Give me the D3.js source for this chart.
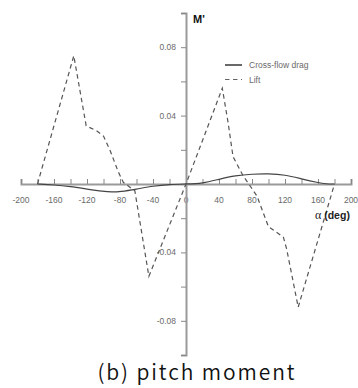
<!DOCTYPE html>
<html>
<head>
<meta charset="utf-8">
<script src="https://cdn.jsdelivr.net/npm/d3@7"></script>
<style>
  html, body { margin: 0; padding: 0; background: #fff; }
  svg { display: block; }
</style>
</head>
<body>
<svg id="chart" width="358" height="388"></svg>
<script>
// Angle of attack (deg) and pitch moment coefficient per contribution
const dragAlpha  = [-180, -160, -140, -120, -100, -90, -80, -60, -40, -20, 0, 20, 40, 60, 80, 100, 120, 140, 160, 170, 180];
const dragMoment = [0, -0.0005, -0.0015, -0.003, -0.0044, -0.0047, -0.0045, -0.003, -0.0012, -0.0002, 0, 0.0003, 0.0028, 0.005, 0.0058, 0.006, 0.0054, 0.003, 0.0008, 0, 0];

const liftAlpha  = [-180, -136, -121, -108, -100, -92, -82, -76, -62, -45, 0, 44, 51, 57, 69, 86, 100, 118, 122, 136, 180];
const liftMoment = [0, 0.075, 0.034, 0.031, 0.028, 0.0196, 0.007, 0.001, -0.004, -0.054, 0, 0.056, 0.036, 0.016, 0.005, -0.007, -0.025, -0.031, -0.038, -0.072, 0];

const xTickLabels = [-200, -160, -120, -80, -40, 0, 40, 80, 120, 160, 200];
const yTickLabels = [0.08, 0.04, -0.04, -0.08];

const seriesNames = ["Cross-flow drag", "Lift"];

const svg = d3.select("#chart");

const x = d3.scaleLinear().domain([-200, 200]).range([21, 351]);
const y = d3.scaleLinear().domain([-0.1, 0.1]).range([355, 13]);

const axisColor = "#9a9a9a";
const labelColor = "#6a6a6a";
const tickFont = "'Liberation Sans', Arial, sans-serif";

// x axis through M' = 0, ticks pointing up
const xAxis = d3.axisTop(x)
  .tickValues(d3.range(-200, 201, 20))
  .tickSize(5)
  .tickFormat("");
const gx = svg.append("g")
  .attr("transform", `translate(0,${y(0)})`)
  .call(xAxis);
gx.select(".domain").attr("stroke", axisColor).attr("stroke-width", 2);
gx.selectAll(".tick line").attr("stroke", "#888").attr("stroke-width", 1);

svg.append("g").selectAll("text")
  .data(xTickLabels)
  .join("text")
  .attr("x", d => x(d))
  .attr("y", y(0) + 19)
  .attr("text-anchor", "middle")
  .attr("font-family", tickFont)
  .attr("font-size", 8.5)
  .attr("fill", labelColor)
  .text(d => d);

// y axis through alpha = 0, ticks pointing left
const yAxis = d3.axisLeft(y)
  .tickValues(d3.range(-0.1, 0.1001, 0.02))
  .tickSize(5)
  .tickFormat("");
const gy = svg.append("g")
  .attr("transform", `translate(${x(0)},0)`)
  .call(yAxis);
gy.select(".domain").attr("stroke", axisColor).attr("stroke-width", 2);
gy.selectAll(".tick line").attr("stroke", "#888").attr("stroke-width", 1);

svg.append("g").selectAll("text")
  .data(yTickLabels)
  .join("text")
  .attr("x", x(0) - 10)
  .attr("y", d => y(d) + 3)
  .attr("text-anchor", "end")
  .attr("font-family", tickFont)
  .attr("font-size", 8.5)
  .attr("fill", labelColor)
  .text(d => d.toFixed(2));

// curves
const dragData = dragAlpha.map((a, i) => [a, dragMoment[i]]);
const liftData = liftAlpha.map((a, i) => [a, liftMoment[i]]);

svg.append("path")
  .datum(dragData)
  .attr("fill", "none")
  .attr("stroke", "#444")
  .attr("stroke-width", 1.2)
  .attr("d", d3.line().x(d => x(d[0])).y(d => y(d[1])).curve(d3.curveBasis));

svg.append("path")
  .datum(liftData)
  .attr("fill", "none")
  .attr("stroke", "#555")
  .attr("stroke-width", 1.2)
  .attr("stroke-dasharray", "4.5,3.5")
  .attr("d", d3.line().x(d => x(d[0])).y(d => y(d[1])));

// axis titles
svg.append("text")
  .attr("x", 193)
  .attr("y", 23)
  .attr("font-family", tickFont)
  .attr("font-weight", "bold")
  .attr("font-size", 11)
  .attr("fill", "#111")
  .text("M'");

const xt = svg.append("text")
  .attr("x", 315)
  .attr("y", 219)
  .attr("font-weight", "bold")
  .attr("font-size", 10.5)
  .attr("fill", "#222");
xt.append("tspan").attr("font-family", "'Liberation Serif', serif").attr("font-weight", "normal").attr("font-size", 12).text("α");
xt.append("tspan").attr("font-family", tickFont).text(" (deg)");

// legend
const legend = svg.append("g").attr("transform", "translate(225,65)");
seriesNames.forEach((name, i) => {
  const row = legend.append("g").attr("transform", `translate(0,${i * 14.5})`);
  row.append("line")
    .attr("x1", 0).attr("x2", 17)
    .attr("y1", 0).attr("y2", 0)
    .attr("stroke", i === 0 ? "#444" : "#666")
    .attr("stroke-width", i === 0 ? 1.6 : 1.2)
    .attr("stroke-dasharray", i === 0 ? null : "4.5,3.5");
  row.append("text")
    .attr("x", 24)
    .attr("y", 3)
    .attr("font-family", tickFont)
    .attr("font-size", 8.5)
    .attr("fill", labelColor)
    .text(name);
});

// caption
svg.append("text")
  .attr("x", 196)
  .attr("y", 380)
  .attr("text-anchor", "middle")
  .attr("font-family", "'Noto Sans CJK KR', 'Noto Sans', sans-serif")
  .attr("font-size", 21)
  .attr("font-weight", 350)
  .attr("fill", "#111")
  .attr("textLength", 197)
  .attr("lengthAdjust", "spacing")
  .text("(b) pitch moment");
</script>
</body>
</html>
